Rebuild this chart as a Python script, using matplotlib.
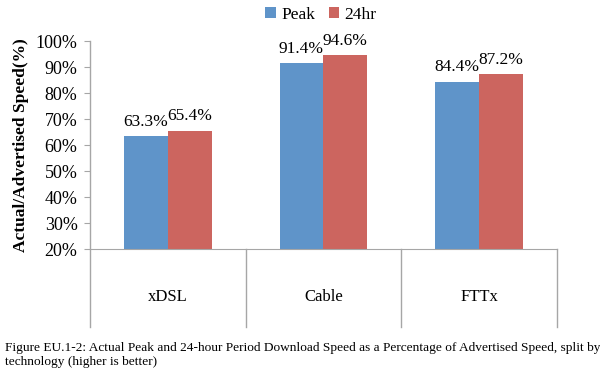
import matplotlib
matplotlib.use("Agg")
import matplotlib.pyplot as plt
import numpy as np

categories = ["xDSL", "Cable", "FTTx"]
peak = [63.3, 91.4, 84.4]
day = [65.4, 94.6, 87.2]
series_names = ["Peak", "24hr"]
yticks = [20, 30, 40, 50, 60, 70, 80, 90, 100]

blue = "#5F94C9"
red = "#CC655F"
grey = "#A6A6A6"

plt.rcParams["font.family"] = ["Liberation Serif", "DejaVu Serif"]

fig = plt.figure(figsize=(6, 3.85), dpi=100)
ax = fig.add_axes([0.15, 0.353, 0.778, 0.5405])

x = np.arange(len(categories))
w = 0.282
b1 = ax.bar(x - w / 2, np.array(peak) - 20, w, bottom=20, color=blue, label=series_names[0])
b2 = ax.bar(x + w / 2, np.array(day) - 20, w, bottom=20, color=red, label=series_names[1])

for xi, v in zip(x, peak):
    ax.text(xi - w / 2, v + 2.5, f"{v:.1f}%", ha="center", va="bottom", fontsize=12.5)
for xi, v in zip(x, day):
    ax.text(xi + w / 2, v + 2.5, f"{v:.1f}%", ha="center", va="bottom", fontsize=12.5)

ax.set_xlim(-0.5, len(categories) - 0.5)
ax.set_ylim(20, 100)
ax.set_yticks(yticks)
ax.set_yticklabels([f"{t}%" for t in yticks], fontsize=13)
ax.tick_params(axis="y", length=4, color=grey, pad=5)
ax.set_xticks([])

for s in ["top", "right", "left"]:
    ax.spines[s].set_visible(False)
ax.spines["bottom"].set_color(grey)

# category separators running down past the axis
for xb in np.arange(len(categories) + 1) - 0.5:
    ax.plot([xb, xb], [-0.375, 1.0 if xb == -0.5 else 0.0], color=grey, lw=1,
            transform=ax.get_xaxis_transform(), clip_on=False)

for xi, c in zip(x, categories):
    ax.text(xi, -0.23, c, ha="center", va="center", fontsize=12,
            transform=ax.get_xaxis_transform())

ax.set_ylabel("Actual/Advertised Speed(%)", fontsize=12.5, fontweight="bold", labelpad=5)

fig.legend(handles=[b1, b2], loc="center", bbox_to_anchor=(0.535, 0.962), ncol=2,
           frameon=False, fontsize=12.5, handlelength=0.6, handleheight=0.6,
           handletextpad=0.3, columnspacing=0.8)

fig.text(0.008, 0.078, "Figure EU.1-2: Actual Peak and 24-hour Period Download Speed as a Percentage of Advertised Speed, split by\ntechnology (higher is better)",
         fontsize=9.6, ha="left", va="center", linespacing=1.3)

fig.savefig("out.png", dpi=100)
